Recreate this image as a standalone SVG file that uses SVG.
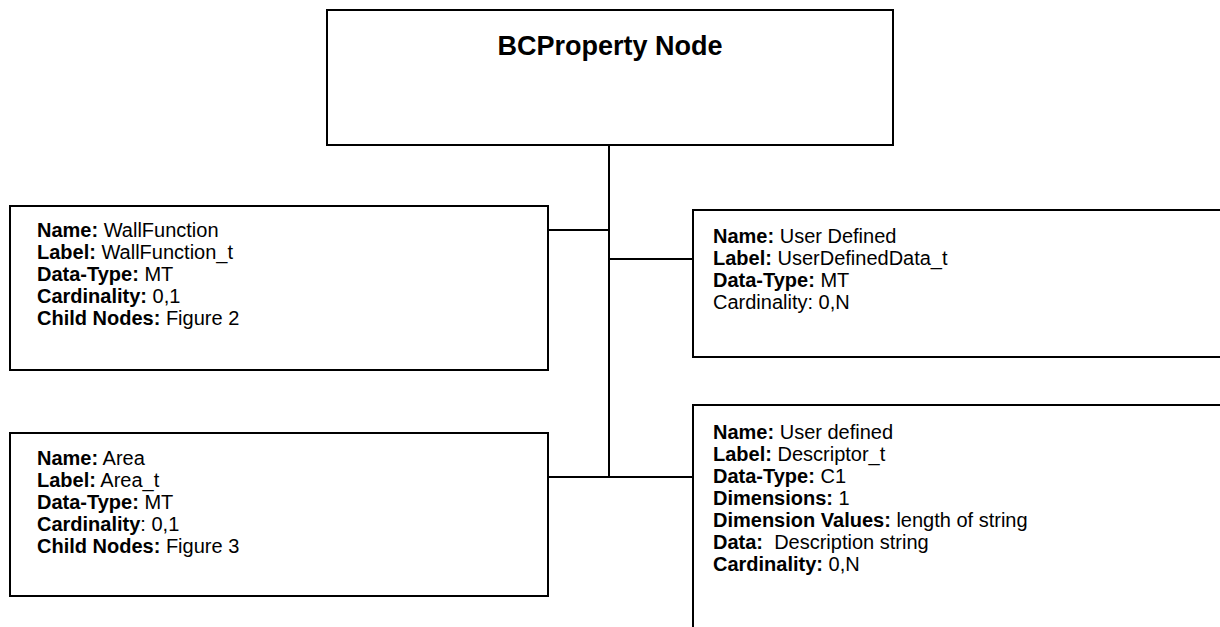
<svg xmlns="http://www.w3.org/2000/svg" width="1220" height="627" viewBox="0 0 1220 627">
  <style>
    .box { fill: #ffffff; stroke: #000000; stroke-width: 2; }
    .wire { fill: none; stroke: #000000; stroke-width: 2; }
    .title { font-family: "Liberation Sans", Arial, sans-serif; font-size: 27px; font-weight: bold; fill: #000; }
    .txt { font-family: "Liberation Sans", Arial, sans-serif; font-size: 20px; fill: #000; }
    .k { font-weight: bold; }
  </style>
  <rect width="1220" height="627" fill="#ffffff"/>

  <!-- tree connectors -->
  <g id="connectors">
    <line class="wire" x1="609" y1="145" x2="609" y2="477"/>
    <line class="wire" x1="548" y1="230" x2="609" y2="230"/>
    <line class="wire" x1="609" y1="259" x2="693" y2="259"/>
    <line class="wire" x1="548" y1="477" x2="693" y2="477"/>
  </g>

  <!-- parent node -->
  <g id="node-bcproperty">
    <rect class="box" x="327" y="10" width="566" height="135"/>
    <text class="title" x="610" y="55" text-anchor="middle">BCProperty Node</text>
  </g>

  <!-- WallFunction child -->
  <g id="node-wallfunction">
    <rect class="box" x="10" y="206" width="538" height="164"/>
    <text class="txt" x="37" y="237"><tspan class="k">Name:</tspan> WallFunction</text>
    <text class="txt" x="37" y="259"><tspan class="k">Label:</tspan> WallFunction_t</text>
    <text class="txt" x="37" y="281"><tspan class="k">Data-Type:</tspan> MT</text>
    <text class="txt" x="37" y="303"><tspan class="k">Cardinality:</tspan> 0,1</text>
    <text class="txt" x="37" y="325"><tspan class="k">Child Nodes:</tspan> Figure 2</text>
  </g>

  <!-- UserDefinedData child -->
  <g id="node-userdefined">
    <rect class="box" x="693" y="210" width="540" height="147"/>
    <text class="txt" x="713" y="243"><tspan class="k">Name:</tspan> User Defined</text>
    <text class="txt" x="713" y="265"><tspan class="k">Label:</tspan> UserDefinedData_t</text>
    <text class="txt" x="713" y="287"><tspan class="k">Data-Type:</tspan> MT</text>
    <text class="txt" x="713" y="309">Cardinality: 0,N</text>
  </g>

  <!-- Area child -->
  <g id="node-area">
    <rect class="box" x="10" y="433" width="538" height="163"/>
    <text class="txt" x="37" y="465"><tspan class="k">Name:</tspan> Area</text>
    <text class="txt" x="37" y="487"><tspan class="k">Label:</tspan> Area_t</text>
    <text class="txt" x="37" y="509"><tspan class="k">Data-Type:</tspan> MT</text>
    <text class="txt" x="37" y="531"><tspan class="k">Cardinality</tspan>: 0,1</text>
    <text class="txt" x="37" y="553"><tspan class="k">Child Nodes:</tspan> Figure 3</text>
  </g>

  <!-- Descriptor child -->
  <g id="node-descriptor">
    <rect class="box" x="693" y="405" width="540" height="240"/>
    <text class="txt" x="713" y="439"><tspan class="k">Name:</tspan> User defined</text>
    <text class="txt" x="713" y="461"><tspan class="k">Label:</tspan> Descriptor_t</text>
    <text class="txt" x="713" y="483"><tspan class="k">Data-Type:</tspan> C1</text>
    <text class="txt" x="713" y="505"><tspan class="k">Dimensions:</tspan> 1</text>
    <text class="txt" x="713" y="527"><tspan class="k">Dimension Values:</tspan> length of string</text>
    <text class="txt" x="713" y="549" xml:space="preserve"><tspan class="k">Data:</tspan>  Description string</text>
    <text class="txt" x="713" y="571"><tspan class="k">Cardinality:</tspan> 0,N</text>
  </g>
</svg>
